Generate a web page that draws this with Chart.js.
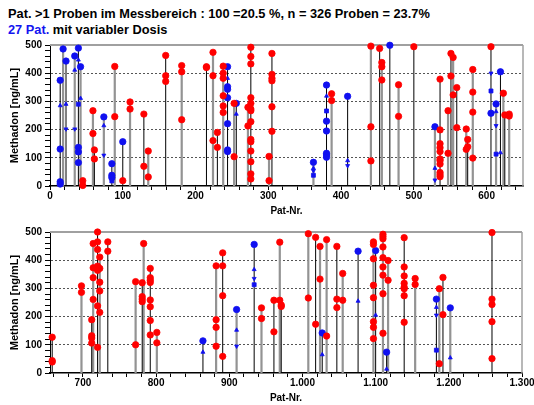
<!DOCTYPE html>
<html>
<head>
<meta charset="utf-8">
<script src="https://cdn.jsdelivr.net/npm/chart.js@4/dist/chart.umd.min.js"></script>
<style>
  body { margin: 0; background: #fff; }
  #wrap { position: relative; width: 534px; height: 405px; overflow: hidden; font-family: 'Liberation Sans', Arial, sans-serif; }
  .txt { position: absolute; left: 8px; font-weight: bold; font-size: 12.8px; color: #000; white-space: nowrap; }
  canvas { position: absolute; left: 0; }
</style>
</head>
<body>
<div id="wrap">
  <div class="txt" style="top:6px">Pat. &gt;1 Proben im Messbereich : 100 =20.5 %, n = 326 Proben = 23.7%</div>
  <div class="txt" style="top:22px"><span style="color:#1414f0">27 Pat.</span> mit variabler Dosis</div>
  <div style="position:absolute;left:0;top:36px;width:534px;height:182px"><canvas id="chartOben"></canvas></div>
  <div style="position:absolute;left:0;top:222px;width:534px;height:183px"><canvas id="chartUnten"></canvas></div>
</div>
<script>
const rotPat = [45, 59, 61, 89, 100, 110, 129, 135, 159, 181, 215, 224, 230, 238, 253, 272, 276, 301, 305, 387,
  441, 453, 456, 479, 500, 536, 547, 551, 554, 559, 572, 574, 581, 606, 623, 625, 631,
  658, 698, 712, 714, 720, 723, 734, 772, 781, 783, 792, 801, 882, 891, 944, 961, 969, 971,
  1008, 1018, 1024, 1033, 1047, 1055, 1097, 1110, 1117, 1139, 1154, 1187, 1192, 1259];
const rotWerte = [[19, 2], [267, 186], [128, 96], [424, 246], [19], [298, 273], [255, 70], [124, 32], [463, 391, 371],
  [427, 405, 235], [423, 420], [474, 391, 161], [190, 137], [425, 400, 382, 320, 284, 261], [293, 104], [279, 213],
  [492, 459, 433, 313, 293, 273, 267, 228, 165, 157, 124, 86, 43, 25], [105, 19], [470, 396, 382, 373, 281, 194],
  [327, 303], [496, 210, 89], [488], [438, 423, 376], [359, 247], [494],
  [379, 199, 150, 136, 122, 96, 90, 78, 48, 40, 33], [267, 116], [470, 390], [456, 323], [349, 207], [202, 130],
  [165, 139], [413, 333, 262, 99], [494], [329], [252], [255, 248],
  [127, 44, 39], [309, 286], [189, 132, 124, 106], [459, 373, 338, 261], [500, 465, 438, 379, 364, 238, 91],
  [411, 371, 322, 291, 215], [465, 432], [324, 100], [320, 271, 262, 253], [459],
  [371, 338, 329, 321, 259, 235, 186, 135], [144, 107], [380, 189, 162, 95], [426, 380, 274, 59], [231, 193],
  [258, 146], [464, 258], [241, 236], [494, 266], [481, 173], [449, 333], [473, 131], [449, 262, 232], [353, 258],
  [465, 456, 405, 311, 267, 182, 162, 122], [492, 484, 476, 447, 409, 376, 347, 281, 141], [399, 329],
  [480, 376, 344, 318, 304, 299, 274, 180], [335, 314], [299, 33], [339, 207], [498, 262, 243, 182, 51]];

// variable Dosis (blau): Kreis, Dreieck hoch, Dreieck runter, Quadrat
const blauPat = [14, 18, 22, 34, 39, 42, 74, 85, 100, 244, 256, 362, 380, 409, 467, 529, 606, 613, 619,
  864, 910, 934, 1027, 1076, 1100, 1115, 1183, 1202];
const blauWerte = [[375, 131, 15, 7], [486], [443], [461], [489, 137, 121, 83], [423], [245], [79, 38, 30], [157],
  [423, 352, 343, 313, 221, 128, 122], [293], [84], [358, 230, 195, 116, 110, 102], [318], [499], [210], [258],
  [291], [405], [114], [225], [456], [142], [432], [434], [74], [262], [231]];
const hochPat = [14, 22, 34, 39, 42, 74, 244, 256, 362, 380, 409, 529, 613, 619, 864, 910, 934, 1027, 1076, 1100, 1115, 1183, 1202];
const hochWerte = [285, 290, 411, 447, 311, 214, 382, 255, 63, 319, 90, 63, 264, 118, 74, 152, 367, 65, 255, 205, 14, 233, 54];
const runterPat = [22, 34, 74, 362, 409, 529, 606, 613, 910, 934, 1183];
const runterWerte = [202, 202, 109, 54, 72, 21, 400, 214, 95, 335, 205];
const quadratPat = [39, 85, 362, 380, 606, 613, 934, 1183];
const quadratWerte = [290, 18, 38, 266, 337, 113, 313, 81];

const yTicks = [0, 100, 200, 300, 400, 500];

function enPoints(pats, werte, von, bis) {
    const pts = [];
    pats.forEach((p, i) => {
        if (p < von || p > bis) return;
        const w = Array.isArray(werte[i]) ? werte[i] : [werte[i]];
        w.forEach(v => pts.push({ x: p, y: v }));
    });
    return pts;
}

// Linie von 0 bis zum hoechsten Wert pro Patient
function stiele(von, bis) {
    const maxi = {};
    const alle = [[rotPat, rotWerte], [blauPat, blauWerte], [hochPat, hochWerte], [runterPat, runterWerte], [quadratPat, quadratWerte]];
    alle.forEach(([pats, werte]) => {
        enPoints(pats, werte, von, bis).forEach(pt => {
            maxi[pt.x] = Math.max(maxi[pt.x] || 0, pt.y);
        });
    });
    const schwarz = [], grau = [];
    Object.keys(maxi).map(Number).sort((a, b) => a - b).forEach((p, i) => {
        const cible = i % 2 === 0 ? schwarz : grau;
        cible.push({ x: p, y: 0 }, { x: p, y: maxi[p] }, { x: p, y: null });
    });
    return { schwarz, grau };
}

function formatPat(v) {
    if (v % 100 !== 0) return '';
    if (v >= 1000) return Math.floor(v / 1000) + '.' + String(v % 1000).padStart(3, '0');
    return String(v);
}

const rahmen = {
    id: 'rahmen',
    beforeDatasetsDraw(chart) {
        const { ctx, chartArea } = chart;
        ctx.save();
        ctx.strokeStyle = '#a0a0a0';
        ctx.lineWidth = 2;
        ctx.beginPath();
        ctx.moveTo(chartArea.left, chartArea.top);
        ctx.lineTo(chartArea.right, chartArea.top);
        ctx.stroke();
        ctx.lineWidth = 1.5;
        ctx.beginPath();
        ctx.moveTo(chartArea.right, chartArea.top);
        ctx.lineTo(chartArea.right, chartArea.bottom);
        ctx.stroke();
        ctx.restore();
    }
};

function dessine(id, von, bis, padTop) {
    const st = stiele(von, bis);
    const pointDs = (label, data, color, style, radius, rot) => ({
        label, data, pointStyle: style, pointRadius: radius, rotation: rot || 0,
        backgroundColor: color, borderColor: color, pointBorderWidth: 0.8, clip: false
    });
    new Chart(document.getElementById(id), {
        type: 'scatter',
        data: {
            datasets: [
                pointDs('rot', enPoints(rotPat, rotWerte, von, bis), '#ff0000', 'circle', 3.2),
                pointDs('blau', enPoints(blauPat, blauWerte, von, bis), '#1010f0', 'circle', 3.2),
                pointDs('hoch', enPoints(hochPat, hochWerte, von, bis), '#1010f0', 'triangle', 2.3),
                pointDs('runter', enPoints(runterPat, runterWerte, von, bis), '#1010f0', 'triangle', 2.3, 180),
                pointDs('quadrat', enPoints(quadratPat, quadratWerte, von, bis), '#1010f0', 'rect', 2.8),
                { label: 's1', data: st.schwarz, showLine: true, borderColor: '#000', borderWidth: 1, pointRadius: 0, spanGaps: false },
                { label: 's2', data: st.grau, showLine: true, borderColor: '#939393', borderWidth: 2.2, pointRadius: 0, spanGaps: false }
            ]
        },
        options: {
            responsive: true,
            maintainAspectRatio: false,
            animation: false,
            events: [],
            layout: { padding: { top: padTop, right: von === 0 ? 11 : 12, left: 0, bottom: 0 } },
            plugins: { legend: { display: false }, tooltip: { enabled: false } },
            scales: {
                x: {
                    type: 'linear',
                    min: von,
                    max: von === 0 ? 650 : 1300,
                    afterFit: s => { s.height = 32; s.paddingLeft = 0; s.paddingRight = 0; },
                    ticks: { stepSize: 20, includeBounds: false, autoSkip: false, maxRotation: 0, padding: 0,
                        callback: v => formatPat(v), color: '#000', font: { family: 'Liberation Sans', weight: 'bold', size: 10 } },
                    grid: { color: 'transparent', tickColor: '#000', tickLength: 4 },
                    border: { color: '#000', width: 1.5 },
                    title: { display: true, text: 'Pat-Nr.', color: '#000', padding: { top: 0, bottom: 1 },
                        font: { family: 'Liberation Sans', weight: 'bold', size: 10 } }
                },
                y: {
                    min: 0,
                    max: 500,
                    afterFit: s => { s.width = 50; s.paddingTop = 0; s.paddingBottom = 0; },
                    ticks: { stepSize: 20, autoSkip: false, padding: 3,
                        callback: v => yTicks.includes(v) ? String(v) : '', color: '#000',
                        font: { family: 'Liberation Sans', weight: 'bold', size: 10 } },
                    grid: {
                        color: c => (c.tick && c.tick.value > 0 && c.tick.value < 500 && c.tick.value % 100 === 0) ? '#555' : 'transparent',
                        tickColor: '#000', tickLength: 5
                    },
                    border: { color: '#000', width: 1, dash: [2, 2] },
                    title: { display: true, text: 'Methadon [ng/mL]', color: '#000', padding: { top: 8, bottom: 0 },
                        font: { family: 'Liberation Sans', weight: 'bold', size: 11 } }
                }
            }
        },
        plugins: [rahmen]
    });
}

dessine('chartOben', 0, 650, 9);
dessine('chartUnten', 655, 1300, 10);
</script>
</body>
</html>
